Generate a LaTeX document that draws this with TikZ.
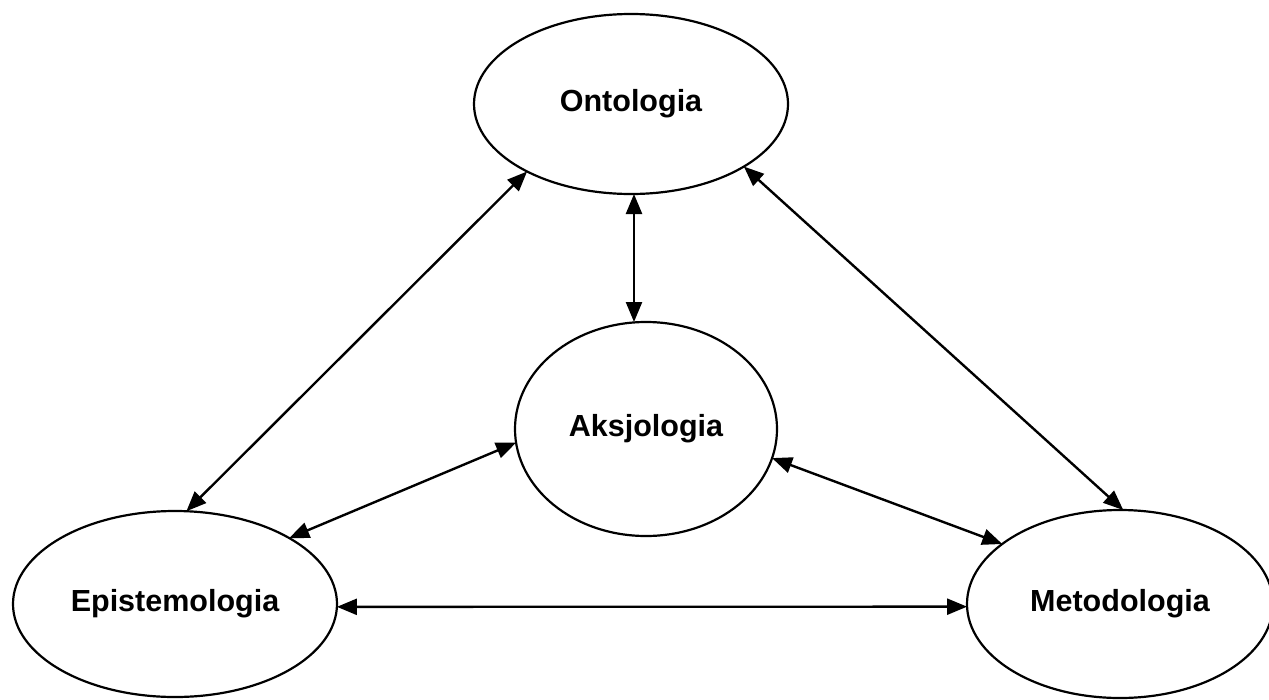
\documentclass[tikz,border=0pt]{standalone}
\usepackage{fontspec}
\setmainfont{Liberation Sans}
\usetikzlibrary{shapes.geometric,arrows.meta}
\begin{document}
\begin{tikzpicture}[x=1pt,y=-1pt,
  concept/.style={draw=black,line width=2.2pt,ellipse,inner sep=0pt,outer sep=0pt,
    font=\fontsize{30.5}{36}\selectfont\bfseries},
  link/.style={line width=2.4pt,{Triangle[length=20pt,width=16pt]}-{Triangle[length=20pt,width=16pt]}}]
\useasboundingbox (0,0) rectangle (1269,699);
\fill[white] (0,0) rectangle (1269,699);
\node[concept,minimum width=314pt,minimum height=180pt] (onto) at (631,104) {Ontologia};
\node[concept,minimum width=262pt,minimum height=214pt] (aks) at (646,429) {Aksjologia};
\node[concept,minimum width=324pt,minimum height=186pt] (epi) at (175,604) {Epistemologia};
\node[concept,minimum width=306pt,minimum height=188pt] (meto) at (1120,604) {Metodologia};
\draw[link] (onto.213.7) -- (epi.83.4);
\draw[link] (onto.331.3) -- (meto.88.8);
\draw[link] ([xshift=3pt]onto.south) -- ([xshift=-12pt]aks.north);
\draw[link] (aks.186.7) -- (epi.30.3);
\draw[link] (aks.347.8) -- (meto.153.9);
\draw[link] (epi.-1) -- (meto.181);
\end{tikzpicture}
\end{document}
